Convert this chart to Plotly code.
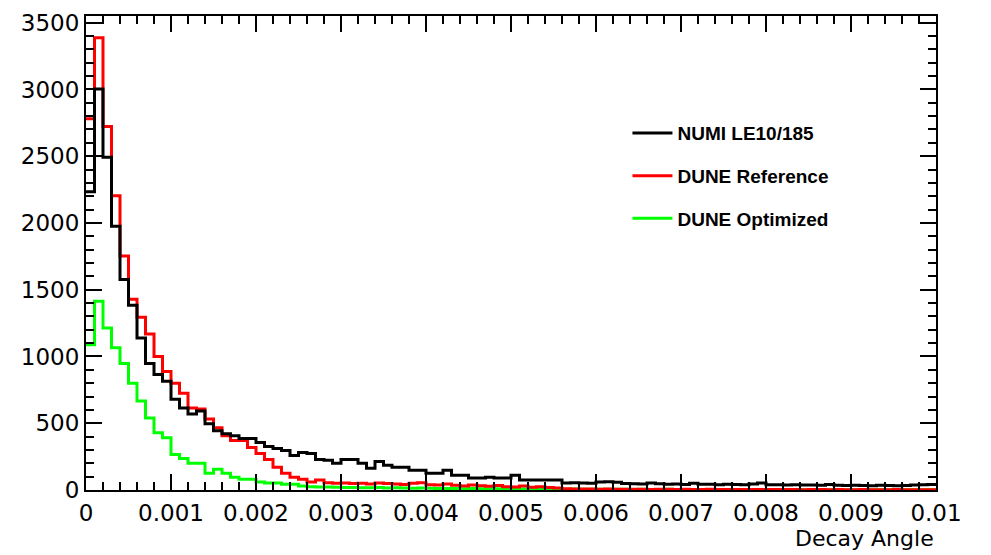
import plotly.graph_objects as go

# bin edges: 100 bins of width 0.0001 from 0 to 0.01
n_bins = 100
bin_width = 0.0001
edges = [round(i * bin_width, 6) for i in range(n_bins + 1)]

numi = [2233, 3003, 2493, 1975, 1576, 1383, 1139, 947, 865, 814,
        680, 614, 570, 592, 496, 444, 421, 407, 385, 385,
        355, 325, 311, 296, 259, 281, 274, 229, 222, 200,
        229, 229, 200, 163, 214, 185, 170, 170, 148, 148,
        126, 126, 148, 111, 111, 89, 89, 96, 89, 89,
        111, 74, 74, 74, 74, 74, 52, 55, 52, 50,
        60, 62, 58, 48, 47, 45, 52, 46, 44, 45,
        42, 50, 44, 43, 40, 44, 41, 40, 45, 52,
        40, 39, 38, 40, 37, 38, 36, 42, 35, 34,
        35, 33, 32, 35, 34, 32, 33, 38, 40, 42]

dune_ref = [2780, 3388, 2722, 2204, 1753, 1428, 1294, 1169, 999, 888,
            799, 725, 614, 607, 532, 466, 407, 370, 370, 318,
            274, 229, 170, 126, 96, 81, 59, 74, 55, 50,
            52, 48, 50, 45, 52, 48, 45, 42, 50, 55,
            40, 38, 45, 35, 30, 38, 32, 28, 34, 25,
            22, 30, 20, 25, 18, 15, 9, 8, 7, 8,
            6, 7, 5, 6, 5, 6, 4, 5, 5, 4,
            5, 4, 4, 5, 3, 4, 4, 3, 4, 3,
            3, 4, 3, 3, 2, 3, 3, 2, 3, 2,
            2, 3, 2, 2, 2, 3, 2, 2, 2, 2]

dune_opt = [1087, 1413, 1213, 1065, 947, 799, 666, 540, 429, 392,
            266, 235, 200, 200, 126, 155, 126, 96, 81, 81,
            59, 52, 52, 44, 44, 30, 25, 22, 22, 20,
            18, 18, 17, 16, 18, 15, 16, 15, 14, 15,
            13, 12, 11, 12, 10, 11, 10, 9, 10, 9,
            8, 8, 7, 8, 7, 6, 6, 7, 6, 5,
            5, 6, 5, 5, 4, 5, 4, 4, 5, 4,
            4, 3, 4, 3, 3, 4, 3, 3, 3, 3,
            2, 3, 2, 3, 2, 2, 3, 2, 2, 2,
            2, 2, 2, 1, 2, 2, 1, 2, 1, 1]

names = ["NUMI LE10/185", "DUNE Reference", "DUNE Optimized"]
colors = ["#000000", "#ff0000", "#00ff00"]
series = [numi, dune_ref, dune_opt]

x_tickvals = [0, 0.001, 0.002, 0.003, 0.004, 0.005, 0.006, 0.007, 0.008, 0.009, 0.01]
x_ticktext = ["0", "0.001", "0.002", "0.003", "0.004", "0.005", "0.006", "0.007", "0.008", "0.009", "0.01"]
y_tickvals = [0, 500, 1000, 1500, 2000, 2500, 3000, 3500]
y_ticktext = ["0", "500", "1000", "1500", "2000", "2500", "3000", "3500"]

fig = go.Figure()
# draw in order: optimized, reference, numi (numi on top)
for idx in [2, 1, 0]:
    vals = series[idx]
    fig.add_trace(go.Scatter(
        x=edges,
        y=vals + [vals[-1]],
        mode="lines",
        line=dict(color=colors[idx], width=3, shape="hv"),
        name=names[idx],
        legendgroup=names[idx],
        legendrank=idx + 1,
        hoverinfo="skip",
    ))

tick_font = "DejaVu Sans, sans-serif"
legend_font = "Liberation Sans, Arial, sans-serif"

fig.update_layout(
    width=991, height=555,
    margin=dict(l=86, r=55, t=10, b=65),
    paper_bgcolor="white",
    plot_bgcolor="white",
    showlegend=True,
    legend=dict(
        x=0.637, y=0.793, xanchor="left", yanchor="top",
        bgcolor="rgba(0,0,0,0)",
        font=dict(family=legend_font, size=19, color="black", weight="bold"),
        tracegroupgap=15,
        itemwidth=40,
    ),
    xaxis=dict(
        range=[0, 0.01],
        tickvals=x_tickvals, ticktext=x_ticktext,
        ticks="inside", ticklen=16, tickwidth=1.5, tickcolor="black",
        minor=dict(dtick=0.0002, ticks="inside", ticklen=8, tickwidth=1.5, tickcolor="black"),
        showline=True, linecolor="black", linewidth=2, mirror="ticks",
        showgrid=False, zeroline=False,
        ticklabelstandoff=1,
        tickfont=dict(family=tick_font, size=23, color="black"),
    ),
    yaxis=dict(
        range=[0, 3550],
        tickvals=y_tickvals, ticktext=y_ticktext,
        ticks="inside", ticklen=16, tickwidth=1.5, tickcolor="black",
        minor=dict(dtick=100, ticks="inside", ticklen=8, tickwidth=1.5, tickcolor="black"),
        showline=True, linecolor="black", linewidth=2, mirror="ticks",
        showgrid=False, zeroline=False,
        tickfont=dict(family=tick_font, size=23, color="black"),
    ),
    annotations=[dict(
        text="Decay Angle", xref="paper", yref="paper",
        x=1.0, y=-0.072, xanchor="right", yanchor="top",
        showarrow=False,
        font=dict(family=tick_font, size=22, color="black"),
    )],
)

fig.write_html("out.html")
